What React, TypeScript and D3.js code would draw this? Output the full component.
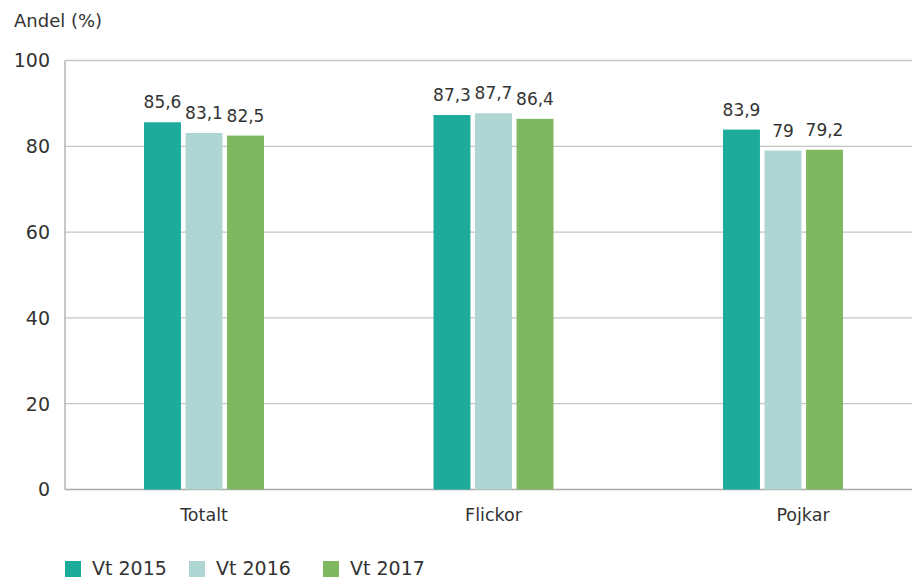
import React from "react";
import * as d3 from "d3";

const categories = ["Totalt", "Flickor", "Pojkar"];
const seriesNames = ["Vt 2015", "Vt 2016", "Vt 2017"];
const vt2015 = [85.6, 87.3, 83.9];
const vt2016 = [83.1, 87.7, 79.0];
const vt2017 = [82.5, 86.4, 79.2];
const seriesValues = [vt2015, vt2016, vt2017];
const yTicks = [0, 20, 40, 60, 80, 100];
const colors = ["#1DAB9C", "#AED6D2", "#80B862"];

const W = 912;
const H = 578;
const FONT = "'DejaVu Sans', sans-serif";

export default function App() {
  const plotLeft = 65;
  const plotRight = 912;
  const y = d3.scaleLinear().domain([0, 100]).range([489.5, 60.5]);
  const x0 = d3.scalePoint<string>().domain(categories).range([204, 783]);
  const x1 = d3.scaleBand<string>().domain(seriesNames).range([-60, 60]).paddingInner(0.11).paddingOuter(0);
  const fmt = (v: number) => String(v).replace(".", ",");

  return (
    <svg width={W} height={H} style={{ position: "absolute", left: 0, top: 0, background: "#fff" }} fontFamily={FONT}>
      <text x={14} y={27} fontSize={18} fill="#333">Andel (%)</text>
      {yTicks.map((t) => (
        <g key={t}>
          <line x1={plotLeft} x2={plotRight} y1={y(t)} y2={y(t)} stroke={t === 0 ? "#aaa" : "#c4c4c4"} strokeWidth={1.3} />
          <text x={50} y={y(t)} dy="0.36em" textAnchor="end" fontSize={19} fill="#333">{t}</text>
        </g>
      ))}
      <line x1={plotLeft} x2={plotLeft} y1={y(100)} y2={y(0)} stroke="#aaa" strokeWidth={1.3} />
      {categories.map((c, ci) => (
        <g key={c} transform={`translate(${x0(c)},0)`}>
          {seriesNames.map((s, si) => {
            const v = seriesValues[si][ci];
            const bx = x1(s)!;
            const bw = x1.bandwidth();
            return (
              <g key={s}>
                <rect x={bx} y={y(v)} width={bw} height={y(0) - y(v)} fill={colors[si]} />
                <text x={bx + bw / 2} y={y(v) - 14} textAnchor="middle" fontSize={17} fill="#333">{fmt(v)}</text>
              </g>
            );
          })}
          <text x={ci === categories.length - 1 ? 20 : 0} y={521} textAnchor="middle" fontSize={17.5} fill="#333">{c}</text>
        </g>
      ))}
      {seriesNames.map((s, si) => {
        const lx = [65, 189, 323][si];
        return (
          <g key={s} transform={`translate(${lx},0)`}>
            <rect x={0} y={561} width={16} height={16} fill={colors[si]} />
            <text x={27} y={575} fontSize={19} fill="#333">{s}</text>
          </g>
        );
      })}
    </svg>
  );
}
